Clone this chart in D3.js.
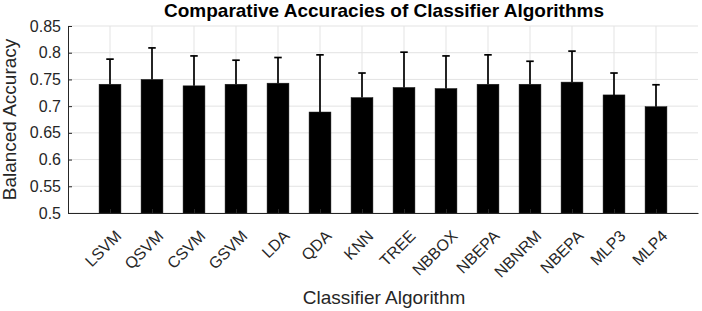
<!DOCTYPE html>
<html>
<head>
<meta charset="utf-8">
<script src="https://cdn.jsdelivr.net/npm/d3@7"></script>
<style>
  body { margin: 0; background: #fff; }
  svg { display: block; font-family: "Liberation Sans", Arial, sans-serif; }
</style>
</head>
<body>
<div id="chart"></div>
<script>
// chart data
const algorithms = ["LSVM", "QSVM", "CSVM", "GSVM", "LDA", "QDA", "KNN", "TREE",
                    "NBBOX", "NBEPA", "NBNRM", "NBEPA", "MLP3", "MLP4"];
const accuracy = [0.741, 0.750, 0.738, 0.741, 0.743, 0.689, 0.716, 0.735,
                  0.733, 0.741, 0.741, 0.745, 0.721, 0.699];
const stdDev = [0.047, 0.059, 0.056, 0.045, 0.048, 0.107, 0.046, 0.066,
                0.061, 0.055, 0.043, 0.058, 0.041, 0.041];
const yTicks = [0.5, 0.55, 0.6, 0.65, 0.7, 0.75, 0.8, 0.85];

// layout
const W = 702, H = 311;
const margin = {top: 26, right: 4, bottom: 98, left: 68};
const width = W - margin.left - margin.right;
const height = H - margin.top - margin.bottom;
const axisColor = "#262626";
const tickFont = "16px";

const svg = d3.select("#chart").append("svg")
    .attr("width", W)
    .attr("height", H);

const g = svg.append("g")
    .attr("transform", "translate(" + margin.left + "," + margin.top + ")");

// x positions: 1..14 inside [0, 15] like matlab
const x = d3.scaleLinear().domain([0, algorithms.length + 1]).range([0, width]);
const y = d3.scaleLinear().domain([0.5, 0.85]).range([height, 0]);
const barW = x(0.52) - x(0);

// grid lines
g.append("g")
  .selectAll("line")
  .data(yTicks)
  .join("line")
    .attr("x1", 0).attr("x2", width)
    .attr("y1", d => y(d)).attr("y2", d => y(d))
    .attr("stroke", "#e3e3e3")
    .attr("stroke-width", 1);

g.append("g")
  .selectAll("line")
  .data(algorithms)
  .join("line")
    .attr("x1", (d, i) => x(i + 1)).attr("x2", (d, i) => x(i + 1))
    .attr("y1", 0).attr("y2", height)
    .attr("stroke", "#e3e3e3")
    .attr("stroke-width", 1);

// bars
g.append("g")
  .selectAll("rect")
  .data(accuracy)
  .join("rect")
    .attr("x", (d, i) => x(i + 1) - barW / 2)
    .attr("y", d => y(d))
    .attr("width", barW)
    .attr("height", d => height - y(d))
    .attr("fill", "#000")
    .attr("stroke", "#1a1a1a")
    .attr("stroke-width", 0.5);

// error bars
const capW = 7.5;
const err = g.append("g")
    .attr("stroke", "#000")
    .attr("stroke-width", 1.7);

accuracy.forEach((d, i) => {
  const cx = x(i + 1);
  err.append("line")
    .attr("x1", cx).attr("x2", cx)
    .attr("y1", y(d)).attr("y2", y(d + stdDev[i]));
  err.append("line")
    .attr("x1", cx - capW / 2).attr("x2", cx + capW / 2)
    .attr("y1", y(d + stdDev[i])).attr("y2", y(d + stdDev[i]));
});

// y axis
const yAxis = g.append("g")
    .call(d3.axisLeft(y).tickValues(yTicks).tickSizeInner(-4).tickSizeOuter(0)
      .tickFormat(d => String(+d.toFixed(2))));
yAxis.select(".domain").attr("stroke", axisColor);
yAxis.selectAll(".tick line").attr("stroke", axisColor);
yAxis.selectAll(".tick text")
    .attr("x", -7)
    .attr("fill", axisColor)
    .style("font-size", tickFont)
    .style("font-family", "Liberation Sans, Arial, sans-serif");

// x axis
const xAxis = g.append("g")
    .attr("transform", "translate(0," + height + ")")
    .call(d3.axisBottom(x).tickValues(d3.range(1, algorithms.length + 1))
      .tickSizeInner(-4).tickSizeOuter(0)
      .tickFormat(d => algorithms[d - 1]));
xAxis.select(".domain").attr("stroke", axisColor);
xAxis.selectAll(".tick line").attr("stroke", axisColor);
xAxis.selectAll(".tick text")
    .attr("fill", axisColor)
    .style("font-size", tickFont)
    .style("font-family", "Liberation Sans, Arial, sans-serif")
    .attr("text-anchor", "end")
    .attr("dy", null)
    .attr("y", 0)
    .attr("transform", "translate(12,24) rotate(-45)");

// title
svg.append("text")
    .attr("x", margin.left + 316)
    .attr("y", 17)
    .attr("text-anchor", "middle")
    .attr("fill", "#000")
    .style("font-size", "19px")
    .style("font-weight", "bold")
    .text("Comparative Accuracies of Classifier Algorithms");

// axis labels
svg.append("text")
    .attr("x", margin.left + 316)
    .attr("y", 304)
    .attr("text-anchor", "middle")
    .attr("fill", axisColor)
    .style("font-size", "19px")
    .text("Classifier Algorithm");

svg.append("text")
    .attr("transform", "translate(16," + (margin.top + height / 2) + ") rotate(-90)")
    .attr("text-anchor", "middle")
    .attr("fill", axisColor)
    .style("font-size", "19px")
    .text("Balanced Accuracy");
</script>
</body>
</html>
